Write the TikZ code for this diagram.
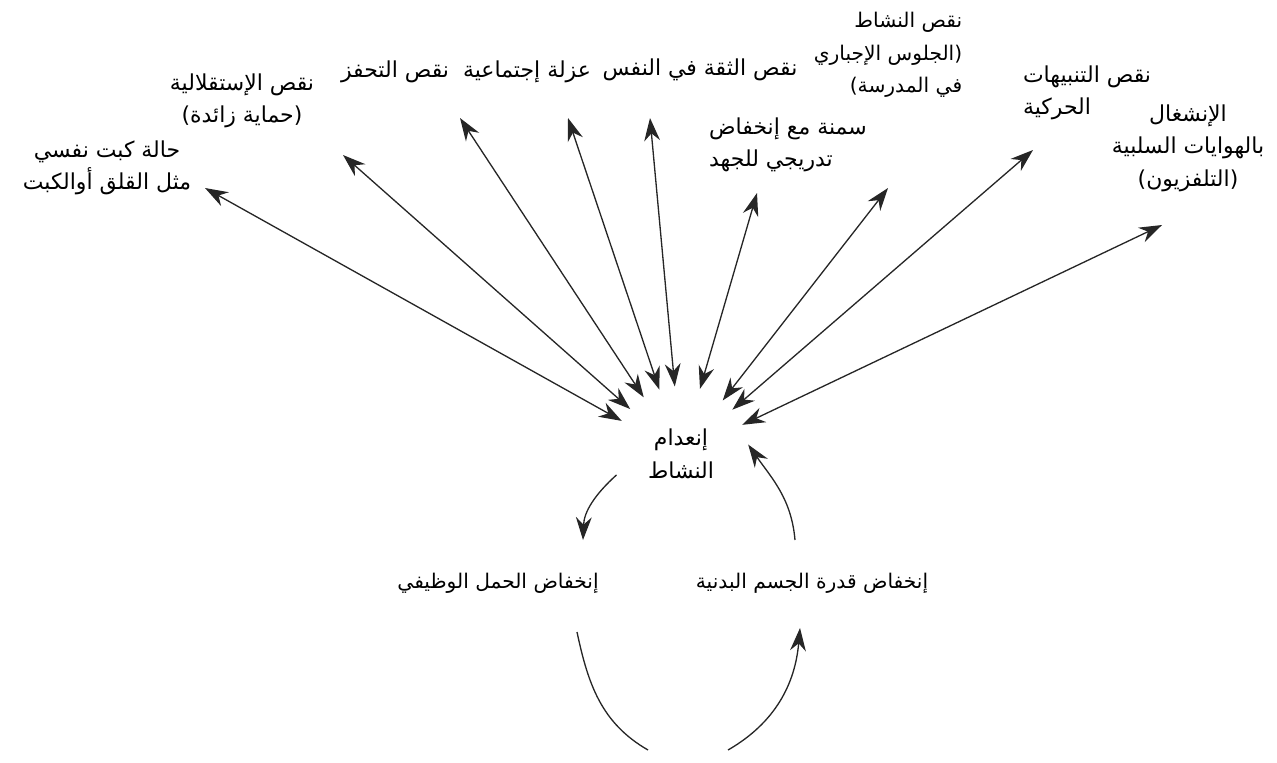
\documentclass[tikz,border=0pt]{standalone}
\usepackage{fontspec}
\newfontfamily\arabicfont[Script=Arabic]{DejaVu Sans}
\TeXXeTstate=1
\usetikzlibrary{arrows.meta}
\newcommand{\arline}[1]{\beginR #1\endR}

\begin{document}
\begin{tikzpicture}[
    x=0.02cm, y=-0.02cm,
    lbl/.style={font={\arabicfont\fontsize{12.5}{18.5}\selectfont}, align=center, inner sep=2pt},
    small/.style={font={\arabicfont\fontsize{11.5}{18.5}\selectfont}},
    link/.style={{Stealth[length=13pt,width=9pt]}-{Stealth[length=13pt,width=9pt]}, line width=0.75pt, draw=black!85},
    arr/.style={-{Stealth[length=13pt,width=9pt]}, line width=0.75pt, draw=black!85},
    plain/.style={line width=0.75pt, draw=black!85}
]
\useasboundingbox (0,0) rectangle (1277,762);

% labels round the top
\node[lbl] (anx) at (107,168) {\arline{حالة كبت نفسي}\\\arline{مثل القلق أوالكبت}};
\node[lbl] (indep) at (242,101) {\arline{نقص الإستقلالية}\\\arline{(حماية زائدة)}};
\node[lbl] (motiv) at (395,72) {\arline{نقص التحفز}};
\node[lbl] (isol) at (527,72) {\arline{عزلة إجتماعية}};
\node[lbl] (conf) at (700,70) {\arline{نقص الثقة في النفس}};
\node[lbl, align=left] (obes) at (788,145) {\arline{سمنة مع إنخفاض}\\\arline{تدريجي للجهد}};
\node[lbl, small, align=right] (sit) at (888,55) {\arline{نقص النشاط}\\\arline{(الجلوس الإجباري}\\\arline{في المدرسة)}};
\node[lbl, align=left] (stim) at (1087,93) {\arline{نقص التنبيهات}\\\arline{الحركية}};
\node[lbl] (tv) at (1188,148) {\arline{الإنشغال}\\\arline{بالهوايات السلبية}\\\arline{(التلفزيون)}};

% centre and the loop below
\node[lbl, circle, minimum size=2.7cm] (hub) at (681,454) {\arline{إنعدام}\\\arline{النشاط}};
\node[lbl, small] (load) at (498,583) {\arline{إنخفاض الحمل الوظيفي}};
\node[lbl, small] (fit) at (812,583) {\arline{إنخفاض قدرة الجسم البدنية}};

% arrow ends next to the labels
\coordinate (anxend) at (205,188);
\coordinate (independ) at (343,155);
\coordinate (motivend) at (460,118);
\coordinate (isolend) at (568,118);
\coordinate (confend) at (650,118);
\coordinate (obesend) at (757,193);
\coordinate (sitend) at (888,188);
\coordinate (stimend) at (1033,150);
\coordinate (tvend) at (1162,225);

\draw[link] (anxend) -- (hub);
\draw[link] (independ) -- (hub);
\draw[link] (motivend) -- (hub);
\draw[link] (isolend) -- (hub);
\draw[link] (confend) -- (hub);
\draw[link] (obesend) -- (hub);
\draw[link] (sitend) -- (hub);
\draw[link] (stimend) -- (hub);
\draw[link] (tvend) -- (hub);

% loop
\coordinate (loadin) at (583,540);
\coordinate (fitout) at (795,540);
\coordinate (loadout) at (577,632);
\coordinate (baseL) at (648,750);
\coordinate (baseR) at (728,750);
\coordinate (fitin) at (800,628);

\draw[arr] (hub.198) to[out=222, in=88] (loadin);
\draw[arr] (fitout) to[out=95, in=-55] (hub.8);
\draw[plain] (loadout) to[out=-78, in=150] (baseL);
\draw[arr] (baseR) to[out=30, in=-95] (fitin);
\end{tikzpicture}
\end{document}
